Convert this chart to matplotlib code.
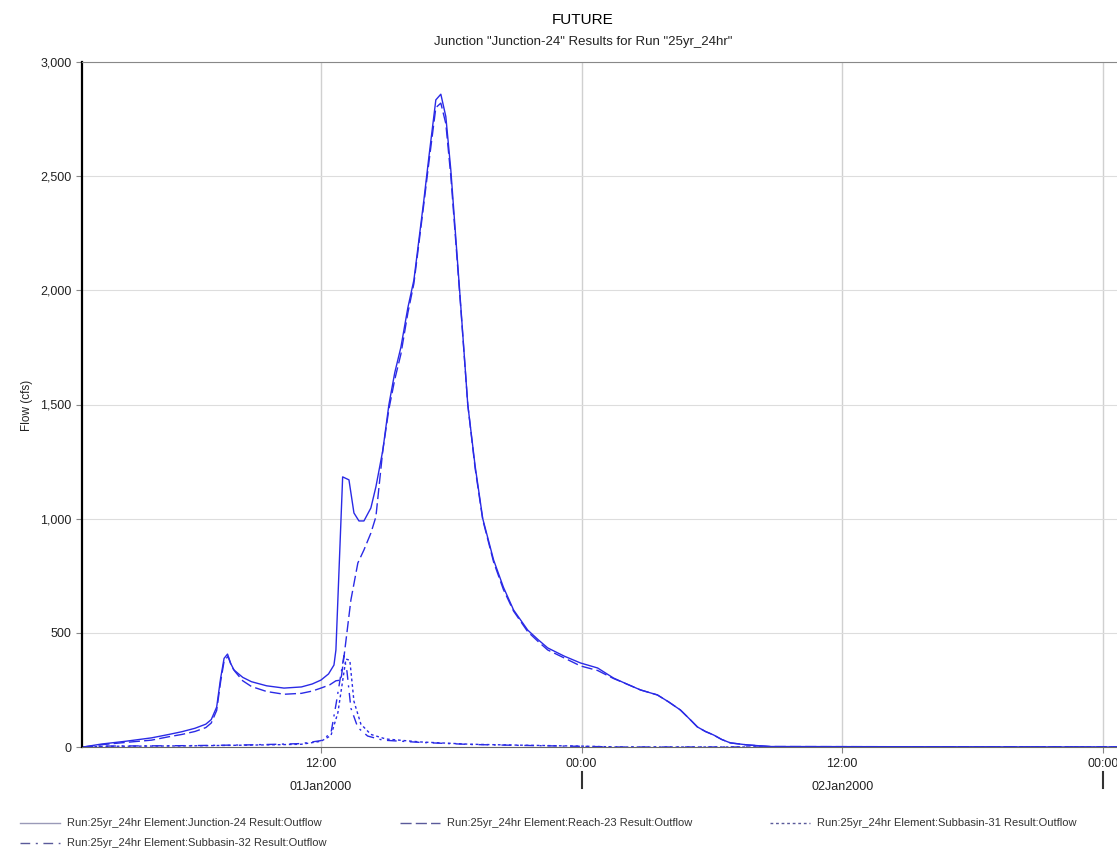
import matplotlib.pyplot as plt
from matplotlib.lines import Line2D

plt.rcParams['font.family'] = ['Liberation Sans', 'DejaVu Sans']

# hours after 01Jan2000 00:00
junction_t = [1.06, 1.9, 3.0, 4.2, 5.0, 5.6, 6.2, 6.7, 6.95, 7.2, 7.38, 7.54, 7.7, 7.85, 8.0,
              8.4, 8.8, 9.5, 10.3, 11.1, 11.6, 12.0, 12.35, 12.6,
              12.69, 13.0, 13.29, 13.52, 13.75, 13.98, 14.3, 14.53, 14.85, 15.13, 15.4, 15.68,
              16.0, 16.28, 16.74, 16.97, 17.29, 17.52, 17.75, 17.98, 18.44, 18.76, 19.1, 19.45,
              19.95, 20.4, 20.87, 21.52, 22.0, 22.44, 23.2, 23.95, 24.74, 25.47, 26.1, 26.71,
              27.49, 28.0, 28.55, 29.0, 29.33, 29.7, 30.07, 30.45, 30.85, 31.63, 32.7, 48.7]
junction_q = [0, 13, 25, 40, 55, 67, 82, 100, 120, 175, 300, 388, 407, 365, 337,
              305, 286, 268, 258, 263, 276, 293, 320, 359,
              425, 1183, 1170, 1025, 990, 990, 1047, 1139, 1300, 1500, 1640, 1750,
              1923, 2045, 2396, 2584, 2834, 2859, 2761, 2527, 1929, 1500, 1230, 1000,
              819, 700, 600, 512, 470, 434, 398, 368, 346, 302, 275, 250,
              228, 198, 162, 120, 88, 68, 53, 33, 18, 9, 2, 0]

reach_t = [1.06, 1.9, 3.0, 4.2, 5.0, 5.6, 6.2, 6.7, 6.95, 7.2, 7.38, 7.54, 7.72, 7.9, 8.05,
           8.4, 8.8, 9.5, 10.3, 11.1, 11.6, 12.0, 12.4, 12.69,
           12.92, 13.06, 13.38, 13.7, 13.98, 14.3, 14.53, 14.85, 15.13, 15.4, 15.68, 16.0,
           16.28, 16.74, 16.97, 17.29, 17.52, 17.75, 17.98, 18.44, 18.76, 19.1, 19.45, 19.95,
           20.4, 20.87, 21.52, 22.0, 22.44, 23.2, 23.95, 24.74, 25.47, 26.1, 26.71, 27.49,
           28.0, 28.55, 29.0, 29.33, 29.7, 30.07, 30.45, 30.85, 31.63, 32.7, 48.7]
reach_q = [0, 10, 20, 30, 45, 55, 68, 85, 105, 160, 285, 375, 397, 350, 330,
           290, 265, 243, 231, 235, 245, 258, 272, 290,
           293, 394, 644, 806, 863, 937, 1008, 1300, 1480, 1610, 1720, 1900,
           2030, 2380, 2560, 2800, 2820, 2730, 2500, 1920, 1500, 1220, 995, 810,
           690, 595, 505, 462, 425, 390, 355, 335, 300, 275, 250, 228,
           198, 162, 120, 88, 68, 53, 33, 18, 9, 2, 0]

sub31_t = [1.06, 2.0, 6.0, 8.5, 10.0, 11.1, 12.0, 12.46, 12.78, 13.15, 13.33, 13.52,
           13.84, 14.3, 14.99, 16.6, 18.9, 21.2, 23.9, 25.7, 48.7]
sub31_q = [0, 3, 5, 8, 10, 12, 25, 50, 150, 385, 380, 200,
           100, 55, 35, 22, 12, 8, 4, 0, 0]

sub32_t = [1.06, 2.0, 6.0, 8.5, 10.0, 11.1, 12.0, 12.46, 12.7, 13.06, 13.2, 13.38,
           13.7, 14.15, 14.85, 16.6, 18.9, 21.2, 23.9, 25.7, 48.7]
sub32_q = [0, 4, 6, 9, 12, 15, 28, 60, 190, 400, 330, 170,
           85, 48, 30, 20, 11, 7, 3, 0, 0]

labels = ['Run:25yr_24hr Element:Junction-24 Result:Outflow',
          'Run:25yr_24hr Element:Reach-23 Result:Outflow',
          'Run:25yr_24hr Element:Subbasin-31 Result:Outflow',
          'Run:25yr_24hr Element:Subbasin-32 Result:Outflow']

line_color = '#2a2ae6'
styles = ['-', (0, (8, 3)), (0, (2, 2)), (0, (7, 4, 1.5, 4))]

fig = plt.figure(figsize=(11.17, 8.51), dpi=100)
ax = fig.add_axes([82 / 1117, 1 - 747 / 851, 1 - 82 / 1117, (747 - 62) / 851])

ax.plot(junction_t, junction_q, color=line_color, lw=1.0, linestyle=styles[0])
ax.plot(reach_t, reach_q, color=line_color, lw=1.0, linestyle=styles[1])
ax.plot(sub31_t, sub31_q, color=line_color, lw=1.0, linestyle=styles[2])
ax.plot(sub32_t, sub32_q, color=line_color, lw=1.0, linestyle=styles[3])

ax.set_xlim(1.0, 48.65)
ax.set_ylim(0, 3000)

ax.set_yticks([0, 500, 1000, 1500, 2000, 2500, 3000])
ax.set_yticklabels(['0', '500', '1,000', '1,500', '2,000', '2,500', '3,000'])
ax.set_xticks([12, 24, 36, 48])
ax.set_xticklabels(['12:00', '00:00', '12:00', '00:00'])
ax.tick_params(axis='both', labelsize=9, color='#888888', length=4, labelcolor='#222222')
ax.tick_params(axis='x', pad=4)

ax.grid(True, axis='y', color='#dddddd', lw=0.8)
ax.grid(True, axis='x', color='#d0d0d0', lw=1.0)
ax.set_axisbelow(True)

ax.spines['right'].set_visible(False)
ax.spines['top'].set_color('#888888')
ax.spines['bottom'].set_color('#666666')
ax.spines['left'].set_color('black')
ax.spines['left'].set_linewidth(1.6)

# date labels and day separators
ax.text(12, -0.049, '01Jan2000', transform=ax.get_xaxis_transform(), ha='center', va='top',
        fontsize=9, color='#222222')
ax.text(36, -0.049, '02Jan2000', transform=ax.get_xaxis_transform(), ha='center', va='top',
        fontsize=9, color='#222222')
for d in [24, 48]:
    ax.plot([d, d], [-0.037, -0.06], transform=ax.get_xaxis_transform(), color='#333333',
            lw=1.5, clip_on=False)

fig.text(27 / 1117, 1 - 405 / 851, 'Flow (cfs)', rotation=90, ha='center', va='center',
         fontsize=8.5, color='#222222')

fig.text(583 / 1117, 1 - 20 / 851, 'FUTURE', ha='center', va='center', fontsize=11)
fig.text(583 / 1117, 1 - 42 / 851, 'Junction "Junction-24" Results for Run "25yr_24hr"',
         ha='center', va='center', fontsize=9.5, color='#222222')

legend_colors = ['#9a9ab8', '#5a5a9a', '#5a5a9a', '#5a5a9a']
pos = [(20, 823), (400, 823), (770, 823), (20, 843)]
for ls, c, lab, (px, py) in zip(styles, legend_colors, labels, pos):
    y = 1 - py / 851
    fig.add_artist(Line2D([px / 1117, (px + 40) / 1117], [y, y], color=c, lw=1.0, linestyle=ls))
    fig.text((px + 47) / 1117, y, lab, ha='left', va='center', fontsize=8, color='#333333')

fig.savefig('out.png', dpi=100)
